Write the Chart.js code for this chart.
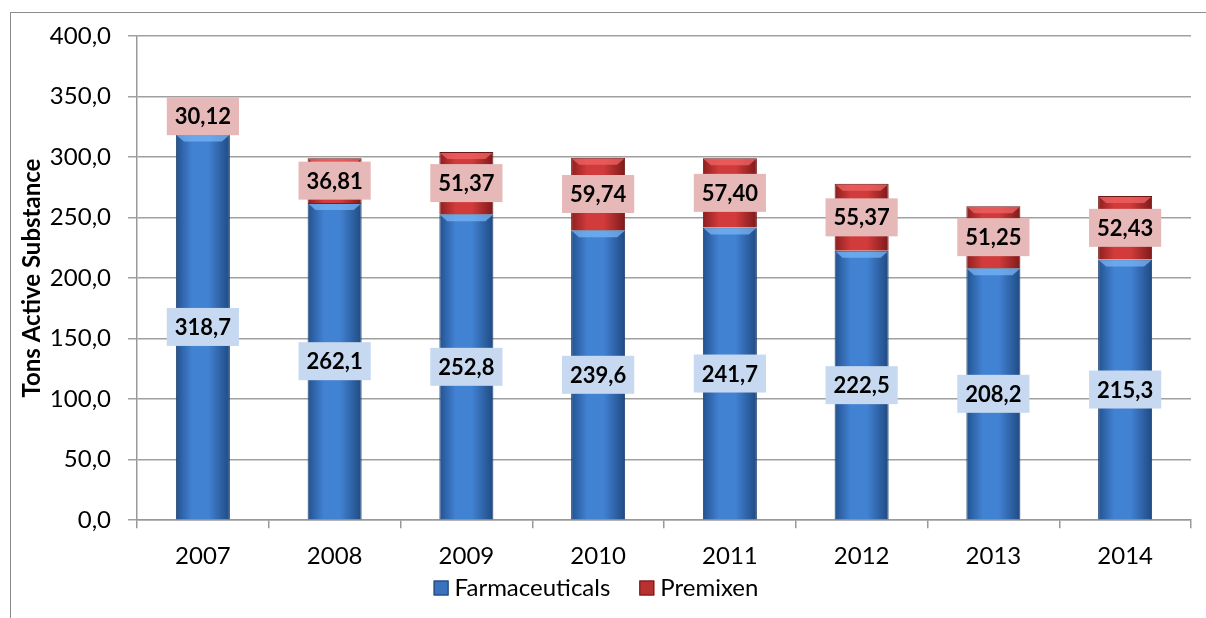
<!DOCTYPE html>
<html>
<head>
<meta charset="utf-8">
<script src="https://cdn.jsdelivr.net/npm/chart.js@4/dist/chart.umd.min.js"></script>
<style>
    html, body { margin: 0; padding: 0; background: #fff; }
    #wrap { position: relative; width: 1206px; height: 618px; overflow: hidden; }
    #frame { position: absolute; left: 10px; top: 12px; width: 1300px; height: 700px; border: 1.5px solid #8c8c8c; box-sizing: border-box; }
    canvas { position: absolute; left: 0; top: 0; }
</style>
</head>
<body>
<div id="wrap">
    <div id="frame"></div>
    <canvas id="myChart" width="1206" height="618"></canvas>
</div>
<script>
const years = ['2007', '2008', '2009', '2010', '2011', '2012', '2013', '2014'];
const farmaceuticals = [318.7, 262.1, 252.8, 239.6, 241.7, 222.5, 208.2, 215.3];
const premixen = [30.12, 36.81, 51.37, 59.74, 57.40, 55.37, 51.25, 52.43];
const yTicks = [0, 50, 100, 150, 200, 250, 300, 350, 400];

const barPct = 0.41;
const legendFills = ['#3a72bd', '#b83232'];
const legendLines = ['#1d3f6e', '#6e1616'];

// horizontal gradient per bar, like the bevelled excel bars
function barGradient(colors) {
    return function(ctx) {
        const chart = ctx.chart;
        const xs = chart.scales.x;
        if (!xs || !chart.chartArea || ctx.dataIndex === undefined) return colors[1];
        const cx = xs.getPixelForValue(ctx.dataIndex);
        const half = xs.width / years.length * barPct / 2;
        const g = chart.ctx.createLinearGradient(cx - half, 0, cx + half, 0);
        g.addColorStop(0, colors[0]);
        g.addColorStop(0.3, colors[1]);
        g.addColorStop(0.6, colors[1]);
        g.addColorStop(1, colors[2]);
        return g;
    };
}

function fmt(v, d) {
    return v.toFixed(d).replace('.', ',');
}

const labelBoxes = {
    id: 'labelBoxes',
    afterDatasetsDraw(chart) {
        const c = chart.ctx;
        const bevel = ['rgba(120,180,245,0.75)', 'rgba(240,100,100,0.75)'];
        // top bevel of each segment
        chart.data.datasets.forEach((ds, di) => {
            chart.getDatasetMeta(di).data.forEach((el) => {
                const half = el.width / 2;
                const top = Math.min(el.y, el.base);
                c.save();
                c.fillStyle = bevel[di];
                c.beginPath();
                c.moveTo(el.x - half + 1, top + 1);
                c.lineTo(el.x + half - 1, top + 1);
                c.lineTo(el.x + half - 8, top + 7);
                c.lineTo(el.x - half + 8, top + 7);
                c.closePath();
                c.fill();
                c.restore();
            });
        });
        // value labels
        const fills = ['#c6d9f1', '#e6b9b8'];
        const decimals = [1, 2];
        c.save();
        c.font = 'bold 22px Lato';
        c.textAlign = 'center';
        c.textBaseline = 'middle';
        chart.data.datasets.forEach((ds, di) => {
            chart.getDatasetMeta(di).data.forEach((el, i) => {
                const txt = fmt(ds.data[i], decimals[di]);
                const cy = (el.y + el.base) / 2;
                const w = c.measureText(txt).width + 16;
                const h = 38;
                c.fillStyle = fills[di];
                c.fillRect(el.x - w / 2, cy - h / 2, w, h);
                c.fillStyle = '#000';
                c.fillText(txt, el.x, cy + 1);
            });
        });
        c.restore();
    },
    // legend drawn by hand so the item spacing can match the excel one
    afterDraw(chart) {
        const c = chart.ctx;
        c.save();
        c.font = '24px Lato';
        c.textBaseline = 'middle';
        const names = chart.data.datasets.map((ds) => ds.label);
        const box = 15, gap = 6, sep = 29;
        let total = 0;
        names.forEach((n, i) => {
            total += box + gap + c.measureText(n).width + (i < names.length - 1 ? sep : 0);
        });
        let x = 596 - total / 2;
        const y = 588;
        names.forEach((n, i) => {
            c.fillStyle = legendFills[i];
            c.fillRect(x, y - box / 2, box, box);
            c.strokeStyle = legendLines[i];
            c.lineWidth = 1;
            c.strokeRect(x + 0.5, y - box / 2 + 0.5, box - 1, box - 1);
            x += box + gap;
            c.fillStyle = '#000';
            c.fillText(n, x, y);
            x += c.measureText(n).width + sep;
        });
        c.restore();
    }
};

const config = {
    type: 'bar',
    data: {
        labels: years,
        datasets: [{
            label: 'Farmaceuticals',
            data: farmaceuticals,
            backgroundColor: barGradient(['#23528f', '#4282d3', '#1f4a82']),
            borderColor: '#1d3f6e',
            borderWidth: 1,
            barPercentage: barPct,
            categoryPercentage: 1
        }, {
            label: 'Premixen',
            data: premixen,
            backgroundColor: barGradient(['#8e1f1f', '#d23b3b', '#7e1a1a']),
            borderColor: '#6e1616',
            borderWidth: 1,
            barPercentage: barPct,
            categoryPercentage: 1
        }]
    },
    options: {
        responsive: false,
        animation: false,
        layout: { padding: { top: 36, right: 15, left: 0, bottom: 33 } },
        plugins: {
            tooltip: { enabled: false },
            legend: { display: false }
        },
        scales: {
            x: {
                stacked: true,
                grid: { offset: true, drawOnChartArea: false, tickLength: 8, color: '#999', lineWidth: 1.5 },
                border: { color: '#999', width: 1.5 },
                ticks: { font: { family: 'Lato', size: 24 }, color: '#000', padding: 14 }
            },
            y: {
                stacked: true,
                min: 0,
                max: 400,
                afterBuildTicks: function(scale) {
                    scale.ticks = yTicks.map((v) => ({ value: v }));
                },
                afterFit: function(scale) {
                    scale.width = 137;
                },
                grid: { tickLength: 9, color: '#a0a0a0', lineWidth: 1.5 },
                border: { color: '#999', width: 1.5 },
                ticks: {
                    font: { family: 'Lato', size: 24 },
                    color: '#000',
                    padding: 17,
                    callback: function(value) {
                        return fmt(value, 1);
                    }
                },
                title: {
                    display: true,
                    text: 'Tons Active Substance',
                    font: { family: 'Lato', size: 24, weight: 'bold' },
                    color: '#000',
                    padding: { top: 18, bottom: 0 }
                }
            }
        }
    },
    plugins: [labelBoxes]
};

const ctx = document.getElementById('myChart').getContext('2d');
const myChart = new Chart(ctx, config);
</script>
</body>
</html>
